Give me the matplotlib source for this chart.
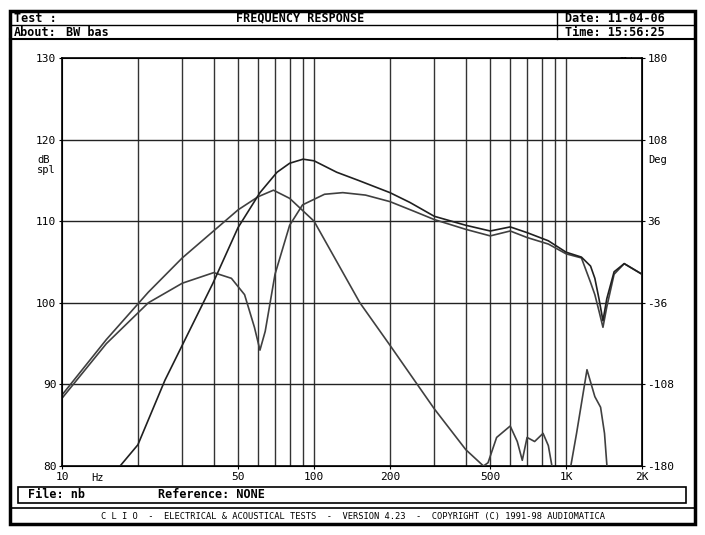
import matplotlib
matplotlib.use("Agg")
import matplotlib.pyplot as plt
import numpy as np

# Curve 1 (woofer-like, broad peak then roll-off), freq Hz / dB
c1_f = [10, 15, 22, 30, 50, 60, 69, 80, 100, 152, 200, 300, 400, 470, 490, 530, 600, 640, 670, 700, 750, 810, 850, 890]
c1_v = [88.7, 95.5, 101.3, 105.5, 111.4, 113.0, 113.8, 112.8, 110.0, 100.0, 94.8, 87.0, 82.0, 80.0, 80.4, 83.5, 84.9, 83.0, 80.7, 83.5, 83.0, 84.0, 82.5, 79.0]
c1b_f = [1030, 1100, 1210, 1300, 1370, 1420, 1460]
c1b_v = [79.0, 84.0, 91.8, 88.5, 87.2, 84.0, 79.0]
# Curve 2 (with dip at 60 Hz)
c2_f = [10, 15, 22, 30, 40, 47, 53, 58, 61, 64, 70, 80, 90, 110, 130, 160, 200, 250, 300, 400, 500, 600, 700, 850, 1000, 1150, 1250, 1300, 1350, 1400, 1450, 1550, 1700, 2000]
c2_v = [88.3, 95.0, 100.0, 102.4, 103.7, 103.0, 101.0, 97.0, 94.2, 96.5, 103.5, 109.5, 112.0, 113.3, 113.5, 113.2, 112.4, 111.2, 110.2, 109.0, 108.2, 108.8, 108.0, 107.2, 106.0, 105.5, 102.5, 101.0, 99.0, 97.0, 99.5, 103.5, 104.8, 103.5]
# Curve 3 (total, peak 117.6 at 90 Hz)
c3_f = [17, 20, 25.6, 30, 39.7, 49.9, 61, 71.3, 80, 90.4, 100, 123, 150, 200, 240, 300, 400, 500, 600, 700, 850, 1000, 1150, 1250, 1300, 1350, 1400, 1450, 1550, 1700, 2000]
c3_v = [80.0, 82.6, 90.5, 94.8, 102.4, 109.2, 113.5, 116.0, 117.1, 117.6, 117.4, 116.0, 115.0, 113.5, 112.3, 110.6, 109.5, 108.8, 109.3, 108.6, 107.6, 106.2, 105.6, 104.5, 103.0, 100.5, 97.8, 100.5, 103.8, 104.8, 103.5]

x_ticks = [10, 50, 100, 200, 500, 1000, 2000]
x_labels = ["10", "50", "100", "200", "500", "1K", "2K"]
y_ticks = [80, 90, 100, 110, 120, 130]
deg_labels = ["-180", "-108", "-36", "36", "108", "180"]

mono = "DejaVu Sans Mono"
fig = plt.figure(figsize=(7.05, 5.35), dpi=100)
W, H = 705, 535
ax = fig.add_axes([62 / W, 1 - 466 / H, 580 / W, 408 / H])
ax.set_xscale("log")
ax.set_xlim(10, 2000)
ax.set_ylim(80, 130)
grid_f = [20, 30, 40, 50, 60, 70, 80, 90, 100, 200, 300, 400, 500, 600, 700, 800, 900, 1000, 2000]
for g in grid_f:
    ax.axvline(g, color="#333333", lw=1.0, zorder=1)
for g in [90, 100, 110, 120]:
    ax.axhline(g, color="#222222", lw=1.0, zorder=1)
lc = "#404040"
ax.plot(c1_f, c1_v, color=lc, lw=1.2, zorder=3, clip_on=True)
ax.plot(c1b_f, c1b_v, color=lc, lw=1.2, zorder=3)
ax.plot(c2_f, c2_v, color=lc, lw=1.2, zorder=3)
ax.plot(c3_f, c3_v, color="#202020", lw=1.2, zorder=3)
ax.set_xticks(x_ticks)
ax.set_xticklabels(x_labels, fontfamily=mono, fontsize=8)
ax.minorticks_off()
ax.set_yticks(y_ticks)
ax.set_yticklabels([str(v) for v in y_ticks], fontfamily=mono, fontsize=8)
ax.tick_params(length=2, pad=2)
for s in ax.spines.values():
    s.set_linewidth(1.2)
ax2 = ax.twinx()
ax2.set_ylim(-180, 180)
ax2.set_yticks([-180, -108, -36, 36, 108, 180])
ax2.set_yticklabels(deg_labels, fontfamily=mono, fontsize=8)
ax2.tick_params(length=2, pad=2)

# overlay for frame and text
ov = fig.add_axes([0, 0, 1, 1], zorder=-1)
ov.set_xlim(0, W); ov.set_ylim(H, 0); ov.axis("off")
from matplotlib.patches import Rectangle
ov.add_patch(Rectangle((10, 11), 685, 513, fill=False, lw=2.5, ec="black"))
ov.plot([10, 695], [25, 25], color="black", lw=1)
ov.plot([10, 695], [39, 39], color="black", lw=1.5)
ov.plot([557, 557], [11, 39], color="black", lw=1)
ov.add_patch(Rectangle((18, 487), 668, 16, fill=False, lw=1.2, ec="black"))
ov.plot([10, 695], [508, 508], color="black", lw=1.2)
kw = dict(fontfamily=mono, fontweight="bold", fontsize=8.5, va="center")
ov.text(14, 18, "Test :", **kw)
ov.text(300, 18, "FREQUENCY RESPONSE", ha="center", **kw)
ov.text(14, 32, "About:", **kw)
ov.text(66, 32, "BW bas", **kw)
ov.text(565, 18, "Date: 11-04-06", **kw)
ov.text(565, 32, "Time: 15:56:25", **kw)
ov.text(28, 495, "File: nb", **kw)
ov.text(158, 495, "Reference: NONE", **kw)
ov.text(353, 516, "C L I O  -  ELECTRICAL & ACOUSTICAL TESTS  -  VERSION 4.23  -  COPYRIGHT (C) 1991-98 AUDIOMATICA",
        ha="center", fontfamily=mono, fontsize=6.3, va="center")
tk = dict(fontfamily=mono, fontsize=7.5, va="center")
ov.text(37, 160, "dB", **tk)
ov.text(37, 170, "spl", **tk)
ov.text(648, 160, "Deg", **tk)
ov.text(91, 478, "Hz", **tk)
ov.text(640, 62, "Clio", ha="right", fontfamily=mono, fontsize=6.5, va="center")
fig.savefig("out.png", dpi=100, facecolor="white")
